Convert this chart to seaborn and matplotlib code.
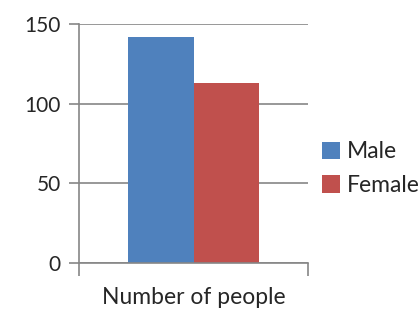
import matplotlib
matplotlib.use('Agg')
import matplotlib.pyplot as plt
import seaborn as sns
import pandas as pd

# data
category = ['Number of people']
genders = ['Male', 'Female']
counts = [142, 113]
colors = ['#4F81BD', '#C0504D']

sns.set_style('white')
plt.rcParams['font.family'] = ['Lato', 'DejaVu Sans']

df = pd.DataFrame({'cat': category * 2, 'gender': genders, 'n': counts})

fig = plt.figure(figsize=(4.19, 3.09), dpi=100)
ax = fig.add_axes([79 / 419, 1 - 263 / 309, 229 / 419, 239 / 309])

sns.barplot(data=df, x='cat', y='n', hue='gender', palette=colors,
            width=131 / 229, ax=ax, saturation=1, edgecolor='none')

grey = '#868686'
ax.set_ylim(0, 150)
ax.set_xlim(-0.5, 0.5)
ax.set_yticks([0, 50, 100, 150])
ax.yaxis.grid(True, color=grey, linewidth=1.2)
ax.set_axisbelow(True)
ax.tick_params(axis='y', left=True, length=7, width=1.2, color=grey,
               labelsize=15, pad=6)
ax.set_xticks([-0.5, 0.5])
ax.set_xticklabels([])
ax.tick_params(axis='x', bottom=True, length=9, width=1.2, color=grey,
               direction='out')
ax.set_xlabel('Number of people', fontsize=16.5, labelpad=5)
ax.set_ylabel('')
for s in ['top', 'right']:
    ax.spines[s].set_visible(False)
for s in ['left', 'bottom']:
    ax.spines[s].set_color(grey)
    ax.spines[s].set_linewidth(1.2)

ax.legend(loc='center left', bbox_to_anchor=(1.0, 0.395), frameon=False,
          fontsize=16.5, handlelength=0.8, handleheight=0.8, handletextpad=0.3,
          labelspacing=0.55, borderaxespad=0.2)

fig.savefig('out.png', dpi=100)
